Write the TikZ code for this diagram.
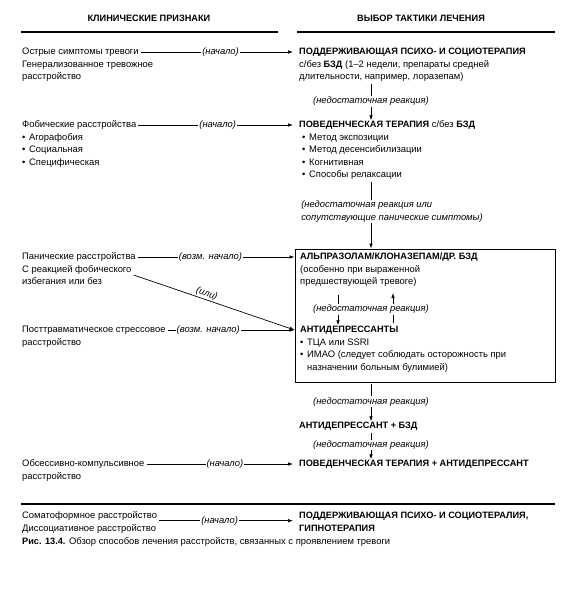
\documentclass[tikz,border=0pt]{standalone}
\usepackage{fontspec}
\setmainfont{Liberation Sans}
\usetikzlibrary{arrows.meta,positioning,calc}
\newcommand{\fs}{\fontsize{9.4}{12.5}\selectfont}
\newcommand{\hb}[1]{{\fontsize{9.2}{12.5}\selectfont\bfseries #1}}
\newcommand{\bul}{\makebox[7pt][l]{\textbullet}}
\tikzset{
  hd/.style={font=\fontsize{9.2}{12}\selectfont\bfseries,inner sep=0pt},
  ln/.style={font=\fs,inner sep=0pt,text height=7pt,text depth=2pt,anchor=west},
  cont/.style={font=\fs,inner sep=0pt,align=left},
  lbl/.style={font=\fs\itshape,fill=white,inner sep=1pt},
  arr/.style={-{Latex[length=5pt,width=3.6pt]},line width=0.7pt,shorten <=2pt},
  rule/.style={line width=1.3pt},
  frame/.style={draw,line width=0.8pt,inner sep=0pt,minimum width=260pt,minimum height=133pt}
}
\begin{document}
\begin{tikzpicture}[x=1pt,y=-1pt]
  \useasboundingbox (0,0) rectangle (569,603);
  \node[hd] (hcl) at (149,18) {КЛИНИЧЕСКИЕ ПРИЗНАКИ};
  \node[hd] (htx) at (421,18) {ВЫБОР ТАКТИКИ ЛЕЧЕНИЯ};
  \draw[rule] (21,32) -- (278,32);
  \draw[rule] (297,32) -- (555,32);
  \coordinate (ax) at (371,0);

  \node[ln] (s1) at (22,52) {Острые симптомы тревоги};
  \node[cont,below=1.75pt of s1.south west,anchor=north west] (s1b) {\strut Генерализованное тревожное\\расстройство};
  \node[ln] (t1) at (299,52) {\hb{ПОДДЕРЖИВАЮЩАЯ ПСИХО- И СОЦИОТЕРАПИЯ}};
  \node[cont,below=1.75pt of t1.south west,anchor=north west] (t1b) {\strut с/без \hb{БЗД} (1--2 недели, препараты средней\\длительности, например, лоразепам)};

  \node[ln] (s2) at (22,125) {Фобические расстройства};
  \node[cont,below=1.75pt of s2.south west,anchor=north west] (s2b) {\strut\bul Агорафобия\\\bul Социальная\\\bul Специфическая};
  \node[ln] (t2) at (299,125) {\hb{ПОВЕДЕНЧЕСКАЯ ТЕРАПИЯ} с/без \hb{БЗД}};
  \node[cont,below=1.75pt of t2.south west,anchor=north west] (t2b) {\strut\hspace*{3pt}\bul Метод экспозиции\\\hspace*{3pt}\bul Метод десенсибилизации\\\hspace*{3pt}\bul Когнитивная\\\hspace*{3pt}\bul Способы релаксации};

  \node[frame] (box) at (425,315.5) {};
  \node[ln] (b1) at (300,257) {\hb{АЛЬПРАЗОЛАМ/КЛОНАЗЕПАМ/ДР. БЗД}};
  \node[cont,below=1.75pt of b1.south west,anchor=north west] (b1b) {\strut(особенно при выраженной\\предшествующей тревоге)};
  \node[ln] (b2) at (300,330) {\hb{АНТИДЕПРЕССАНТЫ}};
  \node[cont,below=1.75pt of b2.south west,anchor=north west] (b2b) {\strut\bul ТЦА или SSRI\\\bul ИМАО (следует соблюдать осторожность при\\\hspace*{7pt}назначении больным булимией)};
  \coordinate (dx) at (338,0);
  \coordinate (ux) at (393,0);

  \node[ln] (s3) at (22,257) {Панические расстройства};
  \node[cont,below=1.75pt of s3.south west,anchor=north west] (s3b) {\strut С реакцией фобического\\избегания или без};
  \node[ln] (s4) at (22,330) {Посттравматическое стрессовое};
  \node[cont,below=1.75pt of s4.south west,anchor=north west] (s4b) {\strut расстройство};

  \node[ln] (t5) at (299,426) {\hb{АНТИДЕПРЕССАНТ + БЗД}};
  \node[ln] (t6) at (299,464) {\hb{ПОВЕДЕНЧЕСКАЯ ТЕРАПИЯ + АНТИДЕПРЕССАНТ}};
  \node[ln] (s6) at (22,464) {Обсессивно-компульсивное};
  \node[cont,below=1.75pt of s6.south west,anchor=north west] (s6b) {\strut расстройство};

  \draw[rule] (21,504) -- (555,504);
  \node[ln] (s7) at (22,516) {Соматоформное расстройство};
  \node[cont,below=1.75pt of s7.south west,anchor=north west] (s7b) {\strut Диссоциативное расстройство};
  \node[ln] (t7) at (299,516) {\hb{ПОДДЕРЖИВАЮЩАЯ ПСИХО- И СОЦИОТЕРАЛИЯ,}};
  \node[cont,below=1.75pt of t7.south west,anchor=north west] (t7b) {\strut\hb{ГИПНОТЕРАПИЯ}};
  \node[ln] (cap) at (22,542) {\hb{Рис. 13.4.} Обзор способов лечения расстройств, связанных с проявлением тревоги};

  \draw[arr,shorten >=6pt] (s1) -- (s1 -| t1.west) node[lbl,pos=0.51]{(начало)};
  \draw[arr,shorten >=6pt] (s2) -- (s2 -| t2.west) node[lbl,pos=0.5]{(начало)};
  \draw[arr] (s3) -- (s3 -| box.west) node[lbl,pos=0.47]{(возм. начало)};
  \draw[arr] (s3b.east) -- (b2 -| box.west) node[lbl,sloped,above,pos=0.45,fill=none]{(или)};
  \draw[arr] (s4) -- (s4 -| box.west) node[lbl,pos=0.33]{(возм. начало)};
  \draw[arr,shorten >=6pt] (s6) -- (s6 -| t6.west) node[lbl,pos=0.52]{(начало)};
  \draw[arr,shorten >=6pt] (s7.south east) -- (s7.south east -| t7.west) node[lbl,pos=0.44]{(начало)};

  \draw[arr] (ax |- t1b.south) -- (ax |- t2.north) node[lbl,midway]{(недостаточная реакция)};
  \draw[arr] (ax |- t2b.south) -- (ax |- box.north) node[lbl,align=left,midway,xshift=21pt,yshift=3pt]{(недостаточная реакция или\\сопутствующие панические симптомы)};
  \draw[arr,shorten >=6pt] (ux |- b2.north) -- (ux |- b1b.south);
  \draw[arr,shorten <=8pt] (dx |- b1b.south) -- (dx |- b2.north) node[lbl,midway,xshift=33pt,yshift=-3pt]{(недостаточная реакция)};
  \draw[arr] (ax |- box.south) -- (ax |- t5.north) node[lbl,midway]{(недостаточная реакция)};
  \draw[arr] (ax |- t5.south) -- (ax |- t6.north) node[lbl,midway]{(недостаточная реакция)};
\end{tikzpicture}
\end{document}
